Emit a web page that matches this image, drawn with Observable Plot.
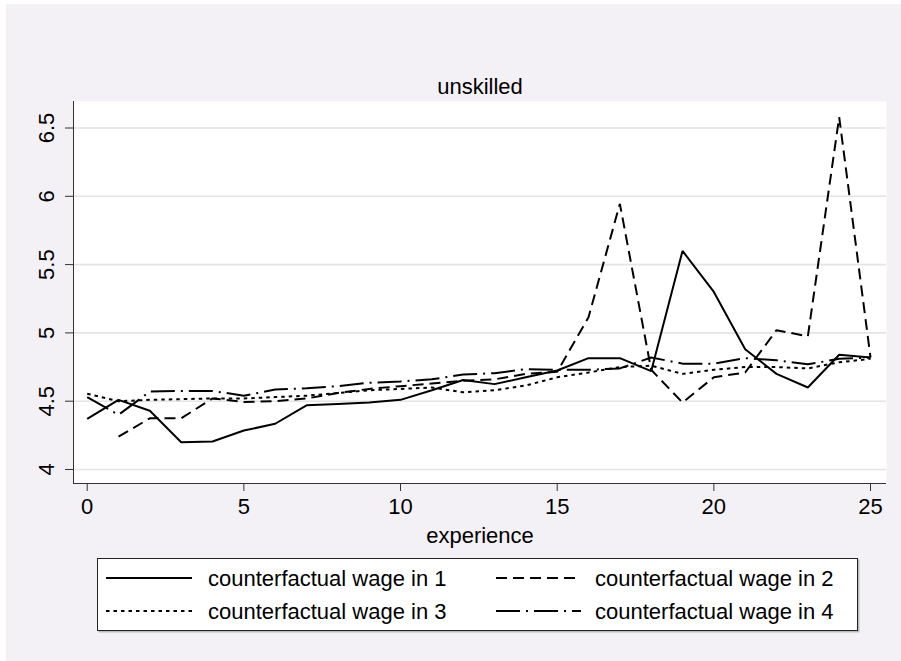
<!DOCTYPE html>
<html>
<head>
<meta charset="utf-8">
<script src="https://cdn.jsdelivr.net/npm/d3@7"></script>
<script src="https://cdn.jsdelivr.net/npm/@observablehq/plot@0.6"></script>
<style>
  html, body { margin: 0; padding: 0; background: #fff; }
  #page { position: relative; width: 901px; height: 661px; overflow: hidden; background: #fff;
          font-family: "Liberation Sans", Arial, sans-serif; color: #000; }
  #panel { position: absolute; left: 6px; top: 4px; right: 0; bottom: 0; background: #f4f1f6; }
  #title { position: absolute; left: 380px; width: 200px; top: 74px; text-align: center;
           font-size: 22px; line-height: 26px; }
  #chart { position: absolute; left: 0; top: 0; }
  #legend { position: absolute; left: 97px; top: 558px; }
</style>
</head>
<body>
<div id="page">
  <div id="panel"></div>
  <div id="title">unskilled</div>
  <div id="chart"></div>
  <div id="legend"></div>
</div>
<script>
// Years of experience
const experience = [0, 1, 2, 3, 4, 5, 6, 7, 8, 9, 10, 11, 12, 13, 14, 15, 16, 17, 18, 19, 20, 21, 22, 23, 24, 25];

// Counterfactual log wages of the unskilled, one series per region
const wage1 = [4.37, 4.51, 4.43, 4.20, 4.205, 4.285, 4.335, 4.47, 4.48, 4.49, 4.51, 4.58, 4.655,
               4.625, 4.675, 4.725, 4.815, 4.815, 4.72, 5.60, 5.30, 4.88, 4.70, 4.60, 4.84, 4.82];
const wage2 = [null, 4.24, 4.375, 4.375, 4.52, 4.495, 4.50, 4.52, 4.56, 4.59, 4.61, 4.63, 4.65,
               4.66, 4.70, 4.715, 5.115, 5.945, 4.73, 4.49, 4.675, 4.71, 5.02, 4.975, 6.58, 4.82];
const wage3 = [4.555, 4.50, 4.51, 4.515, 4.52, 4.52, 4.53, 4.54, 4.56, 4.58, 4.59, 4.60, 4.565,
               4.58, 4.615, 4.675, 4.71, 4.75, 4.76, 4.70, 4.73, 4.75, 4.75, 4.74, 4.785, 4.81];
const wage4 = [4.53, 4.40, 4.57, 4.575, 4.575, 4.54, 4.585, 4.595, 4.61, 4.635, 4.645, 4.66, 4.695,
               4.705, 4.735, 4.73, 4.73, 4.74, 4.82, 4.775, 4.775, 4.815, 4.80, 4.77, 4.81, 4.82];

const seriesNames = ["counterfactual wage in 1", "counterfactual wage in 2",
                     "counterfactual wage in 3", "counterfactual wage in 4"];

// Axis ticks
const xTicks = [0, 5, 10, 15, 20, 25];
const yTicks = [4, 4.5, 5, 5.5, 6, 6.5];

// Line patterns: solid, dash, short dash (dots), dash-dot
const patterns = [null, "11,6", "3.5,4", "24,6,2,6"];

const allSeries = [wage1, wage2, wage3, wage4];
const rows = allSeries.map((vals, s) =>
  experience.map((x, i) => ({x, y: vals[i], series: seriesNames[s]})));

const xDomain = [-0.437, 25.51];
const yDomain = [3.8975, 6.694];

const font = "Liberation Sans, Arial, sans-serif";

const chart = Plot.plot({
  width: 901,
  height: 560,
  marginTop: 101,
  marginLeft: 73,
  marginRight: 15,
  marginBottom: 77,
  style: {background: "transparent", fontFamily: font, color: "#000"},
  x: {domain: xDomain},
  y: {domain: yDomain},
  marks: [
    Plot.frame({fill: "white", stroke: null}),
    Plot.ruleY(yTicks, {stroke: "#e4e4e4", strokeWidth: 1.6}),
    ...rows.map((data, s) => Plot.line(data, {
      x: "x", y: "y",
      stroke: "#000", strokeWidth: 2,
      strokeDasharray: patterns[s] ?? undefined,
      strokeLinejoin: "miter", strokeLinecap: "butt"
    })),
    Plot.ruleX([xDomain[0]], {stroke: "#333", strokeWidth: 1}),
    Plot.ruleY([yDomain[0]], {stroke: "#333", strokeWidth: 1}),
    Plot.axisX({ticks: xTicks, tickSize: 8, tickPadding: 7, fontSize: 22, label: null,
                stroke: "#333", tickFormat: d => String(d)}),
    Plot.axisY({ticks: yTicks, tickSize: 8, tickFormat: () => "", label: null, stroke: "#333"}),
    Plot.text(yTicks, {y: d => d, text: d => String(d), frameAnchor: "left", rotate: -90,
                       dx: -20, textAnchor: "middle", lineAnchor: "bottom", fontSize: 22, fill: "#000"}),
    Plot.text(["experience"], {text: d => d, frameAnchor: "bottom", dy: 52,
                               lineAnchor: "middle", fontSize: 22, fill: "#000"})
  ]
});
document.getElementById("chart").appendChild(chart);

// Legend box with line samples
const lw = 761, lh = 73;
const legend = d3.select("#legend").append("svg")
  .attr("width", lw + 4).attr("height", lh + 4)
  .style("overflow", "visible");
legend.append("rect").attr("x", 1.5).attr("y", 1.5).attr("width", lw).attr("height", lh)
  .attr("fill", "#bbb");
legend.append("rect").attr("x", 0.5).attr("y", 0.5).attr("width", lw - 1).attr("height", lh - 1)
  .attr("fill", "#fff").attr("stroke", "#222").attr("stroke-width", 1);
const cols = [{x0: 9, x1: 95, tx: 111}, {x0: 399, x1: 484, tx: 498}];
const rowsY = [20, 53];
seriesNames.forEach((name, i) => {
  const c = cols[i % 2], yy = rowsY[Math.floor(i / 2)];
  legend.append("line").attr("x1", c.x0).attr("x2", c.x1).attr("y1", yy).attr("y2", yy)
    .attr("stroke", "#000").attr("stroke-width", 2)
    .attr("stroke-dasharray", patterns[i]);
  legend.append("text").attr("x", c.tx).attr("y", yy).attr("dy", "0.36em")
    .attr("font-family", font).attr("font-size", 22).attr("fill", "#000").text(name);
});
</script>
</body>
</html>
